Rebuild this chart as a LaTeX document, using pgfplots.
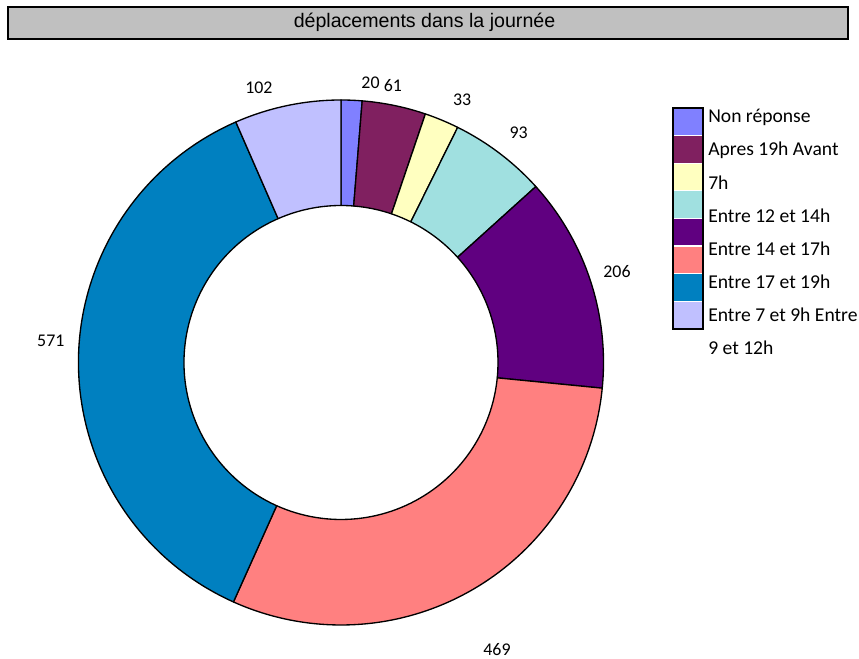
\documentclass[border=0pt]{standalone}
\usepackage{pgfplots}
\pgfplotsset{compat=1.18}
\usepackage{pgfplotstable}
\usepackage{fontspec}
\setmainfont{Carlito}
\newfontfamily\titlefont{Liberation Sans}
\definecolor{c0}{HTML}{8080FF}
\definecolor{c1}{HTML}{802060}
\definecolor{c2}{HTML}{FFFFC0}
\definecolor{c3}{HTML}{A0E0E0}
\definecolor{c4}{HTML}{600080}
\definecolor{c5}{HTML}{FF8080}
\definecolor{c6}{HTML}{0080C0}
\definecolor{c7}{HTML}{C0C0FF}
\definecolor{titlegray}{HTML}{C0C0C0}

% value, label angle offset (deg), label distance from centre (px)
\pgfplotstableread{
val dang lrad
20  -3.7 281.5
61   1.1 282
33  -2.2 289
93  -0.6 290
206  0.0 290.6
469 -1.6 327
571 -3.9 291
102  4.8 287
}\donut

\def\cx{341}
\def\cy{296.5}
\def\Ro{262.5}
\def\Ri{157}
\newcommand\labelfont{\fontsize{13.4}{15}\selectfont}
\newcommand\legfont{\fontsize{14.7}{17}\selectfont}

\begin{document}
\begin{tikzpicture}
\def\mytotal{0}
\pgfplotsforeachungrouped \i in {0,...,7}{%
  \pgfplotstablegetelem{\i}{val}\of\donut
  \pgfmathsetmacro\mytotal{\mytotal+\pgfplotsretval}%
}
\pgfmathsetmacro\mydeg{360/\mytotal}
\def\myacc{0}
\pgfplotsforeachungrouped \i in {0,...,7}{%
  \pgfplotstablegetelem{\i}{val}\of\donut \let\myv\pgfplotsretval
  \pgfplotstablegetelem{\i}{dang}\of\donut \let\myda\pgfplotsretval
  \pgfplotstablegetelem{\i}{lrad}\of\donut \let\mylr\pgfplotsretval
  \pgfmathsetmacro\mysa{90-\mydeg*\myacc}%
  \pgfmathsetmacro\myacc{\myacc+\myv}%
  \pgfmathsetmacro\myea{90-\mydeg*\myacc}%
  \pgfmathsetmacro\myma{(\mysa+\myea)/2+\myda}%
  \pgfmathsetmacro\myxs{\cx+\Ro*cos(\mysa)}%
  \pgfmathsetmacro\myys{\cy+\Ro*sin(\mysa)}%
  \pgfmathsetmacro\myxe{\cx+\Ri*cos(\myea)}%
  \pgfmathsetmacro\myye{\cy+\Ri*sin(\myea)}%
  \pgfmathsetmacro\mylx{\cx+\mylr*cos(\myma)}%
  \pgfmathsetmacro\myly{\cy+\mylr*sin(\myma)}%
  \expandafter\xdef\csname sa\i\endcsname{\mysa}%
  \expandafter\xdef\csname ea\i\endcsname{\myea}%
  \expandafter\xdef\csname xs\i\endcsname{\myxs}%
  \expandafter\xdef\csname ys\i\endcsname{\myys}%
  \expandafter\xdef\csname xe\i\endcsname{\myxe}%
  \expandafter\xdef\csname ye\i\endcsname{\myye}%
  \expandafter\xdef\csname lx\i\endcsname{\mylx}%
  \expandafter\xdef\csname ly\i\endcsname{\myly}%
  \expandafter\xdef\csname vl\i\endcsname{\myv}%
}
\begin{axis}[scale only axis, width=644.25pt, height=494.25pt,
  xmin=0, xmax=859, ymin=0, ymax=659, hide axis, clip=false]
\path (axis cs:0,0) rectangle (axis cs:859,659);
% title
\draw[fill=titlegray, line width=0.9pt] (axis cs:8,652) rectangle (axis cs:848,620);
\node[inner sep=0pt, font=\titlefont\fontsize{14.7}{17}\selectfont] at (axis cs:424.5,637) {déplacements dans la journée};
% donut
\pgfplotsinvokeforeach{0,...,7}{%
  \edef\tmp{\noexpand\filldraw[fill=c#1, draw=black, line width=1pt, line join=round]
    (axis cs:\csname xs#1\endcsname,\csname ys#1\endcsname)
    arc[start angle=\csname sa#1\endcsname, end angle=\csname ea#1\endcsname, radius=196.875pt]
    -- (axis cs:\csname xe#1\endcsname,\csname ye#1\endcsname)
    arc[start angle=\csname ea#1\endcsname, end angle=\csname sa#1\endcsname, radius=117.75pt]
    -- cycle;
    \noexpand\node[inner sep=0pt, font=\noexpand\labelfont] at (axis cs:\csname lx#1\endcsname,\csname ly#1\endcsname) {\csname vl#1\endcsname};}%
  \tmp
}
% legend
\pgfplotsinvokeforeach{0,...,7}{%
  \fill[c#1] (axis cs:673,{551-27.6*#1}) rectangle (axis cs:703,{551-27.6*(#1+1)});
}
\pgfplotsinvokeforeach{1,...,7}{%
  \draw[white, line width=0.8pt] (axis cs:674,{551-27.6*#1}) -- (axis cs:702,{551-27.6*#1});
}
\draw[black, line width=1.6pt] (axis cs:673,551) rectangle (axis cs:703,330.2);
\node[anchor=west, inner sep=0pt, font=\legfont] at (axis cs:708,542) {Non réponse};
\node[anchor=west, inner sep=0pt, font=\legfont] at (axis cs:708,509) {Apres 19h Avant};
\node[anchor=west, inner sep=0pt, font=\legfont] at (axis cs:708,476) {7h};
\node[anchor=west, inner sep=0pt, font=\legfont] at (axis cs:708,443) {Entre 12 et 14h};
\node[anchor=west, inner sep=0pt, font=\legfont] at (axis cs:708,410) {Entre 14 et 17h};
\node[anchor=west, inner sep=0pt, font=\legfont] at (axis cs:708,377) {Entre 17 et 19h};
\node[anchor=west, inner sep=0pt, font=\legfont] at (axis cs:708,344) {Entre 7 et 9h Entre};
\node[anchor=west, inner sep=0pt, font=\legfont] at (axis cs:708,311) {9 et 12h};
\end{axis}
\end{tikzpicture}
\end{document}
